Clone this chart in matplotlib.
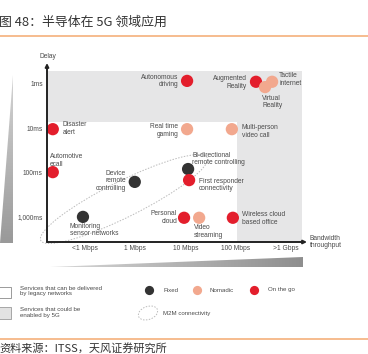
import matplotlib
matplotlib.use('Agg')
import matplotlib.pyplot as plt
from matplotlib.patches import Ellipse, Polygon, Rectangle
import numpy as np

# ---------------- data ----------------
services = ['Autonomous\ndriving', 'Augmented\nReality', 'Virtual\nReality', 'Tactile\ninternet',
            'Disaster\nalert', 'Real time\ngaming', 'Multi-person\nvideo call',
            'Automotive\necall', 'Device\nremote\ncontrolling', 'Bi-directional\nremote controlling',
            'First responder\nconnectivity', 'Monitoring\nsensor networks', 'Personal\ncloud',
            'Video\nstreaming', 'Wireless cloud\nbased office']
# bandwidth position (0 = <1 Mbps ... 4 = >1 Gbps)
bandwidth = [2.03, 3.40, 3.58, 3.72, -0.64, 2.03, 2.92, -0.64, 0.99, 2.05, 2.07, -0.04, 1.97, 2.27, 2.94]
# delay position (0 = 1ms ... 3 = 1,000ms)
delay = [-0.07, -0.05, 0.07, -0.05, 1.02, 1.02, 1.02, 1.99, 2.21, 1.92, 2.17, 3.00, 3.02, 3.02, 3.02]
mobility = ['go', 'go', 'nomadic', 'nomadic', 'go', 'nomadic', 'nomadic', 'go', 'fixed', 'fixed',
            'go', 'fixed', 'go', 'nomadic', 'go']
x_ticklabels = ['<1 Mbps', '1 Mbps', '10 Mbps', '100 Mbps', '>1 Gbps']
y_ticklabels = ['1ms', '10ms', '100ms', '1,000ms']
mobility_names = ['Fixed', 'Nomadic', 'On the go']

# ---------------- styles / layout ----------------
colors = {'fixed': '#333333', 'nomadic': '#F2A88E', 'go': '#E31E2C'}
# label offsets (pixels) and alignment
label_layout = [(-9, 0, 'right'), (-9, -1, 'right'), (-3, -15, 'left'), (7, 2, 'left'),
                (10, 1, 'left'), (-9, -1, 'right'), (10, -2, 'left'),
                (-3, 12, 'left'), (-9, 1, 'right'), (4, 10, 'left'),
                (10, -5, 'left'), (-13, -13, 'left'), (-7, 0, 'right'),
                (-5, -14, 'left'), (9, -1, 'left')]

LAB = ['Liberation Sans', 'DejaVu Sans']
CJK = ['Noto Sans CJK SC', 'DejaVu Sans']
txtc = '#4a4a4a'
fs = 4.8

W, H = 368, 354
fig = plt.figure(figsize=(W / 100, H / 100), dpi=100)
bg = fig.add_axes([0, 0, 1, 1])
bg.set_xlim(0, W)
bg.set_ylim(H, 0)
bg.axis('off')
bg.set_zorder(0)

# title and source
bg.text(-1, 22, '图 48：半导体在 5G 领域应用', family=CJK, fontsize=9.3, color='#333333',
        ha='left', va='center')
bg.plot([0, W], [36, 36], color='#F5B07B', lw=1.2, solid_capstyle='butt')
bg.plot([0, W], [339, 339], color='#F5B07B', lw=1.2, solid_capstyle='butt')
bg.text(-1, 343, '资料来源：ITSS，天风证券研究所', family=CJK, fontsize=8.0, color='#333333',
        ha='left', va='top')

# gradient wedges
def grad_wedge(poly, vertical, c0, c1):
    xs = [p[0] for p in poly]; ys = [p[1] for p in poly]
    n = 256
    g = np.linspace(0, 1, n)
    c0 = np.array(matplotlib.colors.to_rgb(c0)); c1 = np.array(matplotlib.colors.to_rgb(c1))
    cols = c0[None, :] * (1 - g[:, None]) + c1[None, :] * g[:, None]
    if vertical:
        img = cols[:, None, :]
    else:
        img = cols[None, :, :]
    im = bg.imshow(img, extent=(min(xs), max(xs), max(ys), min(ys)), aspect='auto',
                   interpolation='bilinear', zorder=1)
    pg = Polygon(poly, closed=True, facecolor='none', edgecolor='none')
    bg.add_patch(pg)
    im.set_clip_path(pg)

grad_wedge([(13, 75), (13, 243), (0, 243)], True, '#D4D4D4', '#999999')
grad_wedge([(50, 267), (303, 257), (303, 267)], False, '#D8D8D8', '#8E8E8E')
bg.set_xlim(0, W)
bg.set_ylim(H, 0)

# axis titles
bg.text(48, 57, 'Delay', family=LAB, fontsize=fs, color=txtc, ha='center', va='center')
bg.text(310, 242, 'Bandwidth\nthroughput', family=LAB, fontsize=fs, color=txtc,
        ha='left', va='center', linespacing=1.15)

# ---------------- main axes ----------------
ax = fig.add_axes([47 / W, (H - 242) / H, 260 / W, 179 / H])
ax.set_zorder(1)
ax.patch.set_alpha(0)
ax.set_xlim(-0.755, 4.414)
ax.set_ylim(3.567, -0.474)
for s in ax.spines.values():
    s.set_visible(False)

# grey region: services enabled by 5G
band_top, band_bot, col_left, col_right = -0.29, 0.86, 3.03, 4.31
xl, yb = ax.get_xlim()[0], ax.get_ylim()[0]
ax.fill([xl, col_right, col_right, col_left, col_left, xl],
        [band_top, band_top, yb, yb, band_bot, band_bot],
        color='#E6E6E7', lw=0, zorder=0)

# M2M ellipse (pixel geometry)
m2m = Ellipse((124, 199), 186, 36, angle=-26.5, fill=False, edgecolor='#BBBBBB',
              linestyle=(0, (1.5, 1.5)), lw=0.7, transform=bg.transData, zorder=1)
m2m.set_clip_on(False)
ax.add_artist(m2m)

# points
ax.scatter(bandwidth, delay, s=78, c=[colors[m] for m in mobility], lw=0, zorder=3,
           clip_on=False)
for name, x, y, (dx, dy, ha) in zip(services, bandwidth, delay, label_layout):
    ax.annotate(name, (x, y), xytext=(dx, dy), textcoords='offset pixels', ha=ha, va='center',
                family=LAB, fontsize=fs, color=txtc, linespacing=1.15, zorder=4,
                annotation_clip=False)

# axes with arrows
ap = dict(arrowstyle='-|>', color='#222222', lw=1.4, mutation_scale=5, shrinkA=0, shrinkB=0)
ax.annotate('', xy=(0, 1), xytext=(0, 0), xycoords='axes fraction', arrowprops=ap)
ax.annotate('', xy=(1, 0), xytext=(0, 0), xycoords='axes fraction', arrowprops=ap)

ax.set_xticks(range(len(x_ticklabels)))
ax.set_xticklabels(x_ticklabels, family=LAB, fontsize=fs, color=txtc)
ax.set_yticks(range(len(y_ticklabels)))
ax.set_yticklabels(y_ticklabels, family=LAB, fontsize=fs, color=txtc)
ax.tick_params(length=0)
ax.tick_params(axis='x', pad=2)
ax.tick_params(axis='y', pad=3)

# ---------------- legend ----------------
bg.add_patch(Rectangle((-1, 287), 12, 11, facecolor='white', edgecolor='#8A8A8A', lw=0.6, zorder=2))
bg.add_patch(Rectangle((-1, 307), 12, 12, facecolor='#E2E2E2', edgecolor='#9A9A9A', lw=0.6, zorder=2))
bg.text(20, 291, 'Services that can be delivered\nby legacy networks', family=LAB, fontsize=4.4,
        color=txtc, ha='left', va='center', linespacing=1.15)
bg.text(20, 312.5, 'Services that could be\nenabled by 5G', family=LAB, fontsize=4.4,
        color=txtc, ha='left', va='center', linespacing=1.15)
for (mx, tx), key, nm in zip([(149, 163), (197, 209), (254, 268)], ['fixed', 'nomadic', 'go'],
                             mobility_names):
    bg.scatter([mx], [290], s=44, color=colors[key], lw=0, zorder=3)
    bg.text(tx, 290, nm, family=LAB, fontsize=4.4, color=txtc, ha='left', va='center')
bg.add_patch(Ellipse((148, 313), 20, 13, angle=-20, fill=False, edgecolor='#BBBBBB',
                     linestyle=(0, (1.5, 1.5)), lw=0.7, zorder=2))
bg.text(163, 313, 'M2M connectivity', family=LAB, fontsize=4.4, color=txtc, ha='left', va='center')

fig.savefig('out.png', dpi=100)
